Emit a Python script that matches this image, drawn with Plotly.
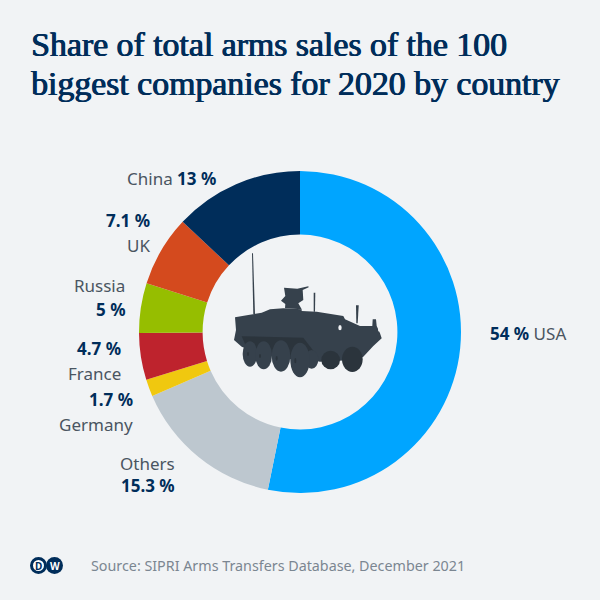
import plotly.graph_objects as go

#%%
countries = ["USA", "Others", "Germany", "France", "Russia", "UK", "China"]
# slice sizes as drawn; the USA slice is drawn a little smaller than its printed label
shares = [53.2, 15.3, 1.7, 4.7, 5, 7.1, 13]
share_labels = ["54 %", "15.3 %", "1.7 %", "4.7 %", "5 %", "7.1 %", "13 %"]
colors = ["#00a5ff", "#bdc7cf", "#f0c80f", "#be232d", "#96be00", "#d44a1e", "#002d5a"]

title_lines = ["Share of total arms sales of the 100", "biggest companies for 2020 by country"]
source = "Source: SIPRI Arms Transfers Database, December 2021"

BG = "#f1f3f5"
NAVY = "#002d5a"
GREY = "#4a5561"
VEHICLE = "#36414c"
VEHICLE_DARK = "#2b343c"

#%%
fig = go.Figure()
fig.add_trace(
    go.Pie(
        labels=countries,
        values=shares,
        hole=0.605,
        sort=False,
        direction="clockwise",
        rotation=0,
        textinfo="none",
        showlegend=False,
        marker=dict(colors=colors, line=dict(width=0)),
        domain=dict(x=[139 / 600, 461 / 600], y=[107 / 600, 429 / 600]),
    )
)

#%%
annotations = []
shapes = []


def add_text(x, y, text, anchor="right", size=17, color=GREY, family="Noto Sans", shadow=None):
    font = dict(family=family, size=size, color=color)
    if shadow:
        font["shadow"] = shadow
    annotations.append(
        dict(
            x=x, y=y, xref="x", yref="y", text=text, showarrow=False, xanchor=anchor,
            yanchor="middle", align=anchor, borderpad=0, font=font,
        )
    )


def bold(text):
    return f"<b>{text}</b>"


def navy(text):
    return f"<span style='color:{NAVY}'>{bold(text)}</span>"


# labels around the ring
share = dict(zip(countries, share_labels))
add_text(217, 178, f"China {navy(share['China'])}")
add_text(151, 220, bold(share["UK"]), color=NAVY)
add_text(151, 245, "UK")
add_text(126, 285, "Russia")
add_text(126, 309, bold(share["Russia"]), color=NAVY)
add_text(122, 348, bold(share["France"]), color=NAVY)
add_text(122, 373, "France")
add_text(134, 399, bold(share["Germany"]), color=NAVY)
add_text(134, 424, "Germany")
add_text(176, 474, f"Others<br>{navy(share['Others'])}")
add_text(489, 333, f"{navy(share['USA'])} USA", anchor="left")

# title and source, the shadow thickens the regular weight to a medium one
title_shadow = f"0.7px 0 0 {NAVY}, -0.3px 0 0 {NAVY}"
add_text(30, 44, title_lines[0], anchor="left", size=33.8, color=NAVY, family="Liberation Serif", shadow=title_shadow)
add_text(30, 83, title_lines[1], anchor="left", size=33.8, color=NAVY, family="Liberation Serif", shadow=title_shadow)
add_text(90, 565, source, anchor="left", size=14.3, color="#7b8691")


#%%
def zoomed(points):
    # outline was traced on a 3x crop starting at (220, 240)
    return "M" + " L".join(f"{220 + x / 3:.1f},{240 + y / 3:.1f}" for x, y in points) + " Z"


def solid(path, color=VEHICLE):
    shapes.append(dict(type="path", path=path, xref="x", yref="y", fillcolor=color, line_width=0, layer="above"))


def oval(cx, cy, rx, ry, color):
    shapes.append(
        dict(
            type="circle", xref="x", yref="y", fillcolor=color, line_width=0, layer="above",
            x0=220 + (cx - rx) / 3, x1=220 + (cx + rx) / 3,
            y0=240 + (cy - ry) / 3, y1=240 + (cy + ry) / 3,
        )
    )


hull = [
    (45, 232), (85, 225), (125, 218), (150, 208), (190, 205), (245, 208), (245, 213), (290, 215),
    (370, 228), (375, 238), (420, 258), (457, 258), (458, 238), (468, 238), (470, 258), (480, 280),
    (485, 295), (460, 318), (430, 350), (400, 360), (300, 365), (250, 355), (100, 335), (65, 320),
    (42, 300), (48, 270),
]
turret = [
    (192, 143), (232, 146), (265, 139), (266, 142), (248, 150), (250, 180), (235, 190), (245, 208),
    (195, 205), (196, 192), (183, 182), (196, 168),
]
solid(zoomed(hull))
solid(zoomed(turret))
# antennas and masts
solid(zoomed([(96, 40), (99, 40), (105, 222), (100, 222)]))
solid(zoomed([(281, 158), (286, 158), (285, 215), (281, 215)]))
solid(zoomed([(408, 196), (416, 196), (413, 250), (409, 250)]))
# wheel well
solid(zoomed([(65, 289), (250, 293), (290, 345), (270, 368), (85, 335)]), VEHICLE_DARK)
# wheels, rear to front
oval(397, 358, 31, 38, VEHICLE_DARK)
oval(332, 360, 28, 28, VEHICLE_DARK)
oval(275, 358, 20, 28, VEHICLE)
oval(90, 342, 22, 38, VEHICLE)
oval(131, 346, 25, 42, VEHICLE)
oval(183, 348, 28, 47, VEHICLE)
oval(240, 360, 29, 52, VEHICLE)
# hubs
oval(84, 342, 3, 6, VEHICLE_DARK)
oval(120, 348, 3, 6, VEHICLE_DARK)
oval(170, 355, 3, 7, VEHICLE_DARK)
oval(226, 362, 3, 8, VEHICLE_DARK)
# hatch and lamp
oval(360, 263, 5, 8, BG)
oval(477, 268, 3, 7, BG)

#%%
# DW logo
shapes.append(dict(type="circle", xref="x", yref="y", x0=31.5, x1=45.5, y0=558.5, y1=572.5,
                   fillcolor="white", line=dict(color=NAVY, width=3)))
shapes.append(dict(type="circle", xref="x", yref="y", x0=46, x1=63, y0=557, y1=574,
                   fillcolor=NAVY, line_width=0))
add_text(38.5, 565.5, bold("D"), anchor="center", size=10, color=NAVY)
add_text(54.5, 565.5, bold("W"), anchor="center", size=10, color="white")

#%%
fig.update_layout(
    width=600,
    height=600,
    autosize=False,
    paper_bgcolor=BG,
    plot_bgcolor=BG,
    margin=dict(l=0, r=0, t=0, b=0),
    xaxis=dict(range=[0, 600], visible=False, fixedrange=True),
    yaxis=dict(range=[600, 0], visible=False, fixedrange=True),
    annotations=annotations,
    shapes=shapes,
)

# the page's default body margin would shift the 600x600 figure
fig.write_html(
    "out.html",
    config={"displayModeBar": False},
    post_script="document.body.style.margin = '0';",
)
